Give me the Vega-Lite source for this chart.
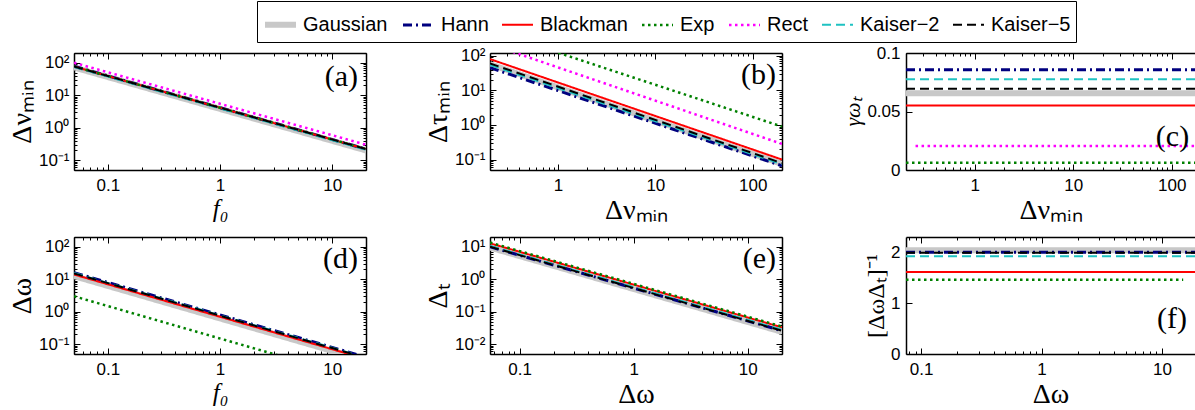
{
  "$schema": "https://vega.github.io/schema/vega-lite/v6.json",
  "padding": {"left": 8, "top": 0, "right": 0, "bottom": 0},
  "background": "white",
  "datasets": {
    "a": [
      {"w": "Gaussian", "x": 0.05, "y": 72}, {"w": "Gaussian", "x": 20, "y": 0.2},
      {"w": "Hann", "x": 0.05, "y": 78}, {"w": "Hann", "x": 20, "y": 0.22},
      {"w": "Blackman", "x": 0.05, "y": 77}, {"w": "Blackman", "x": 20, "y": 0.22},
      {"w": "Exp", "x": 0.05, "y": 77}, {"w": "Exp", "x": 20, "y": 0.22},
      {"w": "Rect", "x": 0.05, "y": 100}, {"w": "Rect", "x": 20, "y": 0.3},
      {"w": "Kaiser−2", "x": 0.05, "y": 74}, {"w": "Kaiser−2", "x": 20, "y": 0.21},
      {"w": "Kaiser−5", "x": 0.05, "y": 77}, {"w": "Kaiser−5", "x": 20, "y": 0.22}
    ],
    "b": [
      {"w": "Gaussian", "x": 0.2, "y": 57}, {"w": "Gaussian", "x": 200, "y": 0.075},
      {"w": "Hann", "x": 0.2, "y": 45}, {"w": "Hann", "x": 200, "y": 0.066},
      {"w": "Blackman", "x": 0.2, "y": 80}, {"w": "Blackman", "x": 200, "y": 0.1},
      {"w": "Exp", "x": 0.2, "y": 546}, {"w": "Exp", "x": 200, "y": 0.9},
      {"w": "Rect", "x": 0.2, "y": 216}, {"w": "Rect", "x": 200, "y": 0.283},
      {"w": "Kaiser−2", "x": 0.2, "y": 54}, {"w": "Kaiser−2", "x": 200, "y": 0.073},
      {"w": "Kaiser−5", "x": 0.2, "y": 60}, {"w": "Kaiser−5", "x": 200, "y": 0.079}
    ],
    "c": [
      {"w": "Gaussian", "x": 0.2, "y": 0.0656}, {"w": "Gaussian", "x": 172, "y": 0.0656},
      {"w": "Hann", "x": 0.2, "y": 0.0856}, {"w": "Hann", "x": 172, "y": 0.0856},
      {"w": "Blackman", "x": 0.2, "y": 0.0552}, {"w": "Blackman", "x": 172, "y": 0.0552},
      {"w": "Exp", "x": 0.2, "y": 0.0062}, {"w": "Exp", "x": 172, "y": 0.0062},
      {"w": "Rect", "x": 0.25, "y": 0.0205}, {"w": "Rect", "x": 172, "y": 0.0205},
      {"w": "Kaiser−2", "x": 0.2, "y": 0.0776}, {"w": "Kaiser−2", "x": 172, "y": 0.0776},
      {"w": "Kaiser−5", "x": 0.2, "y": 0.0695}, {"w": "Kaiser−5", "x": 172, "y": 0.0695}
    ],
    "d": [
      {"w": "Gaussian", "x": 0.05, "y": 12.5}, {"w": "Gaussian", "x": 20, "y": 0.031},
      {"w": "Hann", "x": 0.05, "y": 16}, {"w": "Hann", "x": 20, "y": 0.04},
      {"w": "Blackman", "x": 0.05, "y": 14}, {"w": "Blackman", "x": 20, "y": 0.035},
      {"w": "Exp", "x": 0.05, "y": 3}, {"w": "Exp", "x": 20, "y": 0.0075},
      {"w": "Kaiser−2", "x": 0.05, "y": 15.5}, {"w": "Kaiser−2", "x": 20, "y": 0.039},
      {"w": "Kaiser−5", "x": 0.05, "y": 15.2}, {"w": "Kaiser−5", "x": 20, "y": 0.038}
    ],
    "e": [
      {"w": "Gaussian", "x": 0.055, "y": 9.5}, {"w": "Gaussian", "x": 20, "y": 0.024},
      {"w": "Hann", "x": 0.055, "y": 10}, {"w": "Hann", "x": 20, "y": 0.026},
      {"w": "Blackman", "x": 0.055, "y": 12.8}, {"w": "Blackman", "x": 20, "y": 0.033},
      {"w": "Exp", "x": 0.055, "y": 13.5}, {"w": "Exp", "x": 20, "y": 0.035},
      {"w": "Kaiser−2", "x": 0.055, "y": 10.6}, {"w": "Kaiser−2", "x": 20, "y": 0.028},
      {"w": "Kaiser−5", "x": 0.055, "y": 10.1}, {"w": "Kaiser−5", "x": 20, "y": 0.026}
    ],
    "f": [
      {"w": "Gaussian", "x": 0.075, "y": 2.04}, {"w": "Gaussian", "x": 18.8, "y": 2.04},
      {"w": "Hann", "x": 0.075, "y": 2.0}, {"w": "Hann", "x": 18.8, "y": 2.0},
      {"w": "Blackman", "x": 0.075, "y": 1.61}, {"w": "Blackman", "x": 18.8, "y": 1.61},
      {"w": "Exp", "x": 0.075, "y": 1.46}, {"w": "Exp", "x": 15, "y": 1.46},
      {"w": "Kaiser−2", "x": 0.075, "y": 1.92}, {"w": "Kaiser−2", "x": 18.8, "y": 1.92},
      {"w": "Kaiser−5", "x": 0.075, "y": 1.99}, {"w": "Kaiser−5", "x": 18.8, "y": 1.99}
    ]
  },
  "concat": [
    {
      "width": 292, "height": 117,
      "layer": [
        {
          "data": {"name": "a"},
          "mark": {"type": "line", "clip": true, "strokeCap": "butt"},
          "encoding": {
            "x": {"field": "x", "type": "quantitative", "scale": {"type": "log", "domain": [0.05, 20], "nice": false},
              "axis": {"orient": "bottom", "values": [0.05,0.06,0.07,0.08,0.09,0.1,0.2,0.3,0.4,0.5,0.6,0.7,0.8,0.9,1,2,3,4,5,6,7,8,9,10,20],
                "labelExpr": "abs(log(datum.value)/LN10-round(log(datum.value)/LN10))<0.001 ? format(datum.value, '~g') : ''",
                "tickSize": {"condition": {"test": "abs(log(datum.value)/LN10-round(log(datum.value)/LN10))<0.001", "value": -6}, "value": -3},
                "labelPadding": 13, "title": "f₀", "titleFontStyle": "italic", "titleFontSize": 25, "titlePadding": 0}},
            "y": {"field": "y", "type": "quantitative", "scale": {"type": "log", "domain": [0.05, 200], "nice": false},
              "axis": {"orient": "left", "values": [0.05,0.06,0.07,0.08,0.09,0.1,0.2,0.3,0.4,0.5,0.6,0.7,0.8,0.9,1,2,3,4,5,6,7,8,9,10,20,30,40,50,60,70,80,90,100,200],
                "labelExpr": "abs(log(datum.value)/LN10-round(log(datum.value)/LN10))<0.001 ? '10' + ['⁻²','⁻¹','⁰','¹','²'][round(log(datum.value)/LN10)+2] : ''",
                "tickSize": {"condition": {"test": "abs(log(datum.value)/LN10-round(log(datum.value)/LN10))<0.001", "value": -6}, "value": -3},
                "labelPadding": 11, "title": "Δνₘᵢₙ", "titlePadding": 2}},
            "color": {"field": "w", "type": "nominal", "scale": {"domain": ["Gaussian","Hann","Blackman","Exp","Rect","Kaiser−2","Kaiser−5"], "range": ["#c8c8c8","#00007f","#ff0000","#008000","#ff00ff","#1fc2c2","#000000"]},
              "legend": {"title": null, "orient": "none", "legendX": 183, "legendY": -52, "direction": "horizontal", "columns": 7, "symbolType": "stroke", "symbolSize": 961, "labelFontSize": 20, "labelFont": "Liberation Sans", "labelColor": "black", "strokeColor": "black", "padding": 5, "columnPadding": 9, "labelOffset": 4}},
            "strokeDash": {"field": "w", "type": "nominal", "scale": {"domain": ["Gaussian","Hann","Blackman","Exp","Rect","Kaiser−2","Kaiser−5"], "range": [[1,0],[9,4,2,4],[1,0],[2.5,3.5],[2.5,3.5],[9,5],[9,5]]},
              "legend": {"title": null, "orient": "none", "legendX": 183, "legendY": -52, "direction": "horizontal", "columns": 7, "symbolType": "stroke", "symbolSize": 961, "labelFontSize": 20, "labelFont": "Liberation Sans", "labelColor": "black", "strokeColor": "black", "padding": 5, "columnPadding": 9, "labelOffset": 4}},
            "strokeWidth": {"field": "w", "type": "nominal", "scale": {"type": "ordinal", "domain": ["Gaussian","Hann","Blackman","Exp","Rect","Kaiser−2","Kaiser−5"], "range": [6,3,2,2.5,2.5,2,2]},
              "legend": {"title": null, "orient": "none", "legendX": 183, "legendY": -52, "direction": "horizontal", "columns": 7, "symbolType": "stroke", "symbolSize": 961, "labelFontSize": 20, "labelFont": "Liberation Sans", "labelColor": "black", "strokeColor": "black", "padding": 5, "columnPadding": 9, "labelOffset": 4}}
          }
        },
        {
          "data": {"values": [{"label": "(a)"}]},
          "mark": {"type": "text", "align": "right", "baseline": "middle", "font": "Liberation Serif", "fontSize": 30},
          "encoding": {
            "x": {"datum": 17, "type": "quantitative", "axis": {"orient": "top", "values": [0.05,0.06,0.07,0.08,0.09,0.1,0.2,0.3,0.4,0.5,0.6,0.7,0.8,0.9,1,2,3,4,5,6,7,8,9,10,20], "labels": false, "title": null,
              "tickSize": {"condition": {"test": "abs(log(datum.value)/LN10-round(log(datum.value)/LN10))<0.001", "value": -6}, "value": -3}}},
            "y": {"datum": 36, "type": "quantitative", "axis": {"orient": "right", "values": [0.05,0.06,0.07,0.08,0.09,0.1,0.2,0.3,0.4,0.5,0.6,0.7,0.8,0.9,1,2,3,4,5,6,7,8,9,10,20,30,40,50,60,70,80,90,100,200], "labels": false, "title": null,
              "tickSize": {"condition": {"test": "abs(log(datum.value)/LN10-round(log(datum.value)/LN10))<0.001", "value": -6}, "value": -3}}},
            "text": {"field": "label"}
          }
        }
      ],
      "resolve": {"axis": {"x": "independent", "y": "independent"}}
    },
    {
      "width": 292, "height": 117,
      "layer": [
        {
          "data": {"name": "b"},
          "mark": {"type": "line", "clip": true, "strokeCap": "butt"},
          "encoding": {
            "x": {"field": "x", "type": "quantitative", "scale": {"type": "log", "domain": [0.2, 200], "nice": false},
              "axis": {"orient": "bottom", "values": [0.2,0.3,0.4,0.5,0.6,0.7,0.8,0.9,1,2,3,4,5,6,7,8,9,10,20,30,40,50,60,70,80,90,100,200],
                "labelExpr": "abs(log(datum.value)/LN10-round(log(datum.value)/LN10))<0.001 ? format(datum.value, '~g') : ''",
                "tickSize": {"condition": {"test": "abs(log(datum.value)/LN10-round(log(datum.value)/LN10))<0.001", "value": -6}, "value": -3},
                "labelPadding": 13, "title": "Δνₘᵢₙ", "titlePadding": 0}},
            "y": {"field": "y", "type": "quantitative", "scale": {"type": "log", "domain": [0.05, 120], "nice": false},
              "axis": {"orient": "left", "values": [0.05,0.06,0.07,0.08,0.09,0.1,0.2,0.3,0.4,0.5,0.6,0.7,0.8,0.9,1,2,3,4,5,6,7,8,9,10,20,30,40,50,60,70,80,90,100],
                "labelExpr": "abs(log(datum.value)/LN10-round(log(datum.value)/LN10))<0.001 ? '10' + ['⁻²','⁻¹','⁰','¹','²'][round(log(datum.value)/LN10)+2] : ''",
                "tickSize": {"condition": {"test": "abs(log(datum.value)/LN10-round(log(datum.value)/LN10))<0.001", "value": -6}, "value": -3},
                "labelPadding": 11, "title": "Δτₘᵢₙ", "titlePadding": 2}},
            "color": {"field": "w", "type": "nominal", "scale": {"domain": ["Gaussian","Hann","Blackman","Exp","Rect","Kaiser−2","Kaiser−5"], "range": ["#c8c8c8","#00007f","#ff0000","#008000","#ff00ff","#1fc2c2","#000000"]}},
            "strokeDash": {"field": "w", "type": "nominal", "scale": {"domain": ["Gaussian","Hann","Blackman","Exp","Rect","Kaiser−2","Kaiser−5"], "range": [[1,0],[9,4,2,4],[1,0],[2.5,3.5],[2.5,3.5],[9,5],[9,5]]}},
            "strokeWidth": {"field": "w", "type": "nominal", "scale": {"type": "ordinal", "domain": ["Gaussian","Hann","Blackman","Exp","Rect","Kaiser−2","Kaiser−5"], "range": [6,3,2,2.5,2.5,2,2]}}
          }
        },
        {
          "data": {"values": [{"label": "(b)"}]},
          "mark": {"type": "text", "align": "right", "baseline": "middle", "font": "Liberation Serif", "fontSize": 30},
          "encoding": {
            "x": {"datum": 173, "type": "quantitative", "axis": {"orient": "top", "values": [0.2,0.3,0.4,0.5,0.6,0.7,0.8,0.9,1,2,3,4,5,6,7,8,9,10,20,30,40,50,60,70,80,90,100,200], "labels": false, "title": null,
              "tickSize": {"condition": {"test": "abs(log(datum.value)/LN10-round(log(datum.value)/LN10))<0.001", "value": -6}, "value": -3}}},
            "y": {"datum": 28, "type": "quantitative", "axis": {"orient": "right", "values": [0.05,0.06,0.07,0.08,0.09,0.1,0.2,0.3,0.4,0.5,0.6,0.7,0.8,0.9,1,2,3,4,5,6,7,8,9,10,20,30,40,50,60,70,80,90,100], "labels": false, "title": null,
              "tickSize": {"condition": {"test": "abs(log(datum.value)/LN10-round(log(datum.value)/LN10))<0.001", "value": -6}, "value": -3}}},
            "text": {"field": "label"}
          }
        }
      ],
      "resolve": {"axis": {"x": "independent", "y": "independent"}}
    },
    {
      "width": 289, "height": 117,
      "layer": [
        {
          "data": {"name": "c"},
          "mark": {"type": "line", "clip": true, "strokeCap": "butt"},
          "encoding": {
            "x": {"field": "x", "type": "quantitative", "scale": {"type": "log", "domain": [0.2, 172], "nice": false},
              "axis": {"orient": "bottom", "values": [0.2,0.3,0.4,0.5,0.6,0.7,0.8,0.9,1,2,3,4,5,6,7,8,9,10,20,30,40,50,60,70,80,90,100],
                "labelExpr": "abs(log(datum.value)/LN10-round(log(datum.value)/LN10))<0.001 ? format(datum.value, '~g') : ''",
                "tickSize": {"condition": {"test": "abs(log(datum.value)/LN10-round(log(datum.value)/LN10))<0.001", "value": -6}, "value": -3},
                "labelPadding": 13, "title": "Δνₘᵢₙ", "titlePadding": 0}},
            "y": {"field": "y", "type": "quantitative", "scale": {"domain": [0, 0.1], "nice": false, "zero": false},
              "axis": {"orient": "left", "values": [0, 0.05, 0.1], "format": "~g", "tickSize": -6,
                "labelPadding": 12, "title": "γωₜ", "titleFontStyle": "italic", "titleFontSize": 22, "titlePadding": 2}},
            "color": {"field": "w", "type": "nominal", "scale": {"domain": ["Gaussian","Hann","Blackman","Exp","Rect","Kaiser−2","Kaiser−5"], "range": ["#c8c8c8","#00007f","#ff0000","#008000","#ff00ff","#1fc2c2","#000000"]}},
            "strokeDash": {"field": "w", "type": "nominal", "scale": {"domain": ["Gaussian","Hann","Blackman","Exp","Rect","Kaiser−2","Kaiser−5"], "range": [[1,0],[9,4,2,4],[1,0],[2.5,3.5],[2.5,3.5],[9,5],[9,5]]}},
            "strokeWidth": {"field": "w", "type": "nominal", "scale": {"type": "ordinal", "domain": ["Gaussian","Hann","Blackman","Exp","Rect","Kaiser−2","Kaiser−5"], "range": [6,3,2,2.5,2.5,2,2]}}
          }
        },
        {
          "data": {"values": [{"label": "(c)"}]},
          "mark": {"type": "text", "align": "right", "baseline": "middle", "font": "Liberation Serif", "fontSize": 30},
          "encoding": {
            "x": {"datum": 150, "type": "quantitative", "axis": {"orient": "top", "values": [0.2,0.3,0.4,0.5,0.6,0.7,0.8,0.9,1,2,3,4,5,6,7,8,9,10,20,30,40,50,60,70,80,90,100], "labels": false, "title": null,
              "tickSize": {"condition": {"test": "abs(log(datum.value)/LN10-round(log(datum.value)/LN10))<0.001", "value": -6}, "value": -3}}},
            "y": {"datum": 0.028, "type": "quantitative"},
            "text": {"field": "label"}
          }
        }
      ],
      "resolve": {"axis": {"x": "independent"}}
    },
    {
      "width": 292, "height": 117,
      "layer": [
        {
          "data": {"name": "d"},
          "mark": {"type": "line", "clip": true, "strokeCap": "butt"},
          "encoding": {
            "x": {"field": "x", "type": "quantitative", "scale": {"type": "log", "domain": [0.05, 20], "nice": false},
              "axis": {"orient": "bottom", "values": [0.05,0.06,0.07,0.08,0.09,0.1,0.2,0.3,0.4,0.5,0.6,0.7,0.8,0.9,1,2,3,4,5,6,7,8,9,10,20],
                "labelExpr": "abs(log(datum.value)/LN10-round(log(datum.value)/LN10))<0.001 ? format(datum.value, '~g') : ''",
                "tickSize": {"condition": {"test": "abs(log(datum.value)/LN10-round(log(datum.value)/LN10))<0.001", "value": -6}, "value": -3},
                "labelPadding": 13, "title": "f₀", "titleFontStyle": "italic", "titleFontSize": 25, "titlePadding": 0}},
            "y": {"field": "y", "type": "quantitative", "scale": {"type": "log", "domain": [0.05, 200], "nice": false},
              "axis": {"orient": "left", "values": [0.05,0.06,0.07,0.08,0.09,0.1,0.2,0.3,0.4,0.5,0.6,0.7,0.8,0.9,1,2,3,4,5,6,7,8,9,10,20,30,40,50,60,70,80,90,100,200],
                "labelExpr": "abs(log(datum.value)/LN10-round(log(datum.value)/LN10))<0.001 ? '10' + ['⁻²','⁻¹','⁰','¹','²'][round(log(datum.value)/LN10)+2] : ''",
                "tickSize": {"condition": {"test": "abs(log(datum.value)/LN10-round(log(datum.value)/LN10))<0.001", "value": -6}, "value": -3},
                "labelPadding": 11, "title": "Δω", "titlePadding": 2}},
            "color": {"field": "w", "type": "nominal", "scale": {"domain": ["Gaussian","Hann","Blackman","Exp","Rect","Kaiser−2","Kaiser−5"], "range": ["#c8c8c8","#00007f","#ff0000","#008000","#ff00ff","#1fc2c2","#000000"]}},
            "strokeDash": {"field": "w", "type": "nominal", "scale": {"domain": ["Gaussian","Hann","Blackman","Exp","Rect","Kaiser−2","Kaiser−5"], "range": [[1,0],[9,4,2,4],[1,0],[2.5,3.5],[2.5,3.5],[9,5],[9,5]]}},
            "strokeWidth": {"field": "w", "type": "nominal", "scale": {"type": "ordinal", "domain": ["Gaussian","Hann","Blackman","Exp","Rect","Kaiser−2","Kaiser−5"], "range": [6,3,2,2.5,2.5,2,2]}}
          }
        },
        {
          "data": {"values": [{"label": "(d)"}]},
          "mark": {"type": "text", "align": "right", "baseline": "middle", "font": "Liberation Serif", "fontSize": 30},
          "encoding": {
            "x": {"datum": 17, "type": "quantitative", "axis": {"orient": "top", "values": [0.05,0.06,0.07,0.08,0.09,0.1,0.2,0.3,0.4,0.5,0.6,0.7,0.8,0.9,1,2,3,4,5,6,7,8,9,10,20], "labels": false, "title": null,
              "tickSize": {"condition": {"test": "abs(log(datum.value)/LN10-round(log(datum.value)/LN10))<0.001", "value": -6}, "value": -3}}},
            "y": {"datum": 42, "type": "quantitative", "axis": {"orient": "right", "values": [0.05,0.06,0.07,0.08,0.09,0.1,0.2,0.3,0.4,0.5,0.6,0.7,0.8,0.9,1,2,3,4,5,6,7,8,9,10,20,30,40,50,60,70,80,90,100,200], "labels": false, "title": null,
              "tickSize": {"condition": {"test": "abs(log(datum.value)/LN10-round(log(datum.value)/LN10))<0.001", "value": -6}, "value": -3}}},
            "text": {"field": "label"}
          }
        }
      ],
      "resolve": {"axis": {"x": "independent", "y": "independent"}}
    },
    {
      "width": 292, "height": 117,
      "layer": [
        {
          "data": {"name": "e"},
          "mark": {"type": "line", "clip": true, "strokeCap": "butt"},
          "encoding": {
            "x": {"field": "x", "type": "quantitative", "scale": {"type": "log", "domain": [0.055, 20], "nice": false},
              "axis": {"orient": "bottom", "values": [0.06,0.07,0.08,0.09,0.1,0.2,0.3,0.4,0.5,0.6,0.7,0.8,0.9,1,2,3,4,5,6,7,8,9,10,20],
                "labelExpr": "abs(log(datum.value)/LN10-round(log(datum.value)/LN10))<0.001 ? format(datum.value, '~g') : ''",
                "tickSize": {"condition": {"test": "abs(log(datum.value)/LN10-round(log(datum.value)/LN10))<0.001", "value": -6}, "value": -3},
                "labelPadding": 13, "title": "Δω", "titlePadding": 0}},
            "y": {"field": "y", "type": "quantitative", "scale": {"type": "log", "domain": [0.005, 20], "nice": false},
              "axis": {"orient": "left", "values": [0.005,0.006,0.007,0.008,0.009,0.01,0.02,0.03,0.04,0.05,0.06,0.07,0.08,0.09,0.1,0.2,0.3,0.4,0.5,0.6,0.7,0.8,0.9,1,2,3,4,5,6,7,8,9,10,20],
                "labelExpr": "abs(log(datum.value)/LN10-round(log(datum.value)/LN10))<0.001 ? '10' + ['⁻²','⁻¹','⁰','¹','²'][round(log(datum.value)/LN10)+2] : ''",
                "tickSize": {"condition": {"test": "abs(log(datum.value)/LN10-round(log(datum.value)/LN10))<0.001", "value": -6}, "value": -3},
                "labelPadding": 11, "title": "Δₜ", "titlePadding": 2}},
            "color": {"field": "w", "type": "nominal", "scale": {"domain": ["Gaussian","Hann","Blackman","Exp","Rect","Kaiser−2","Kaiser−5"], "range": ["#c8c8c8","#00007f","#ff0000","#008000","#ff00ff","#1fc2c2","#000000"]}},
            "strokeDash": {"field": "w", "type": "nominal", "scale": {"domain": ["Gaussian","Hann","Blackman","Exp","Rect","Kaiser−2","Kaiser−5"], "range": [[1,0],[9,4,2,4],[1,0],[2.5,3.5],[2.5,3.5],[9,5],[9,5]]}},
            "strokeWidth": {"field": "w", "type": "nominal", "scale": {"type": "ordinal", "domain": ["Gaussian","Hann","Blackman","Exp","Rect","Kaiser−2","Kaiser−5"], "range": [6,3,2,2.5,2.5,2,2]}}
          }
        },
        {
          "data": {"values": [{"label": "(e)"}]},
          "mark": {"type": "text", "align": "right", "baseline": "middle", "font": "Liberation Serif", "fontSize": 30},
          "encoding": {
            "x": {"datum": 17.7, "type": "quantitative", "axis": {"orient": "top", "values": [0.06,0.07,0.08,0.09,0.1,0.2,0.3,0.4,0.5,0.6,0.7,0.8,0.9,1,2,3,4,5,6,7,8,9,10,20], "labels": false, "title": null,
              "tickSize": {"condition": {"test": "abs(log(datum.value)/LN10-round(log(datum.value)/LN10))<0.001", "value": -6}, "value": -3}}},
            "y": {"datum": 4.2, "type": "quantitative", "axis": {"orient": "right", "values": [0.005,0.006,0.007,0.008,0.009,0.01,0.02,0.03,0.04,0.05,0.06,0.07,0.08,0.09,0.1,0.2,0.3,0.4,0.5,0.6,0.7,0.8,0.9,1,2,3,4,5,6,7,8,9,10,20], "labels": false, "title": null,
              "tickSize": {"condition": {"test": "abs(log(datum.value)/LN10-round(log(datum.value)/LN10))<0.001", "value": -6}, "value": -3}}},
            "text": {"field": "label"}
          }
        }
      ],
      "resolve": {"axis": {"x": "independent", "y": "independent"}}
    },
    {
      "width": 289, "height": 117,
      "layer": [
        {
          "data": {"name": "f"},
          "mark": {"type": "line", "clip": true, "strokeCap": "butt"},
          "encoding": {
            "x": {"field": "x", "type": "quantitative", "scale": {"type": "log", "domain": [0.075, 18.8], "nice": false},
              "axis": {"orient": "bottom", "values": [0.08,0.09,0.1,0.2,0.3,0.4,0.5,0.6,0.7,0.8,0.9,1,2,3,4,5,6,7,8,9,10],
                "labelExpr": "abs(log(datum.value)/LN10-round(log(datum.value)/LN10))<0.001 ? format(datum.value, '~g') : ''",
                "tickSize": {"condition": {"test": "abs(log(datum.value)/LN10-round(log(datum.value)/LN10))<0.001", "value": -6}, "value": -3},
                "labelPadding": 13, "title": "Δω", "titlePadding": 0}},
            "y": {"field": "y", "type": "quantitative", "scale": {"domain": [0, 2.3], "nice": false, "zero": false},
              "axis": {"orient": "left", "values": [0, 1, 2], "format": "d", "tickSize": -6,
                "labelPadding": 12, "title": "[ΔωΔₜ]⁻¹", "titleFontSize": 24, "titlePadding": 2}},
            "color": {"field": "w", "type": "nominal", "scale": {"domain": ["Gaussian","Hann","Blackman","Exp","Rect","Kaiser−2","Kaiser−5"], "range": ["#c8c8c8","#00007f","#ff0000","#008000","#ff00ff","#1fc2c2","#000000"]}},
            "strokeDash": {"field": "w", "type": "nominal", "scale": {"domain": ["Gaussian","Hann","Blackman","Exp","Rect","Kaiser−2","Kaiser−5"], "range": [[1,0],[9,4,2,4],[1,0],[2.5,3.5],[2.5,3.5],[9,5],[9,5]]}},
            "strokeWidth": {"field": "w", "type": "nominal", "scale": {"type": "ordinal", "domain": ["Gaussian","Hann","Blackman","Exp","Rect","Kaiser−2","Kaiser−5"], "range": [6,3,2,2.5,2.5,2,2]}}
          }
        },
        {
          "data": {"values": [{"label": "(f)"}]},
          "mark": {"type": "text", "align": "right", "baseline": "middle", "font": "Liberation Serif", "fontSize": 30},
          "encoding": {
            "x": {"datum": 16.1, "type": "quantitative", "axis": {"orient": "top", "values": [0.08,0.09,0.1,0.2,0.3,0.4,0.5,0.6,0.7,0.8,0.9,1,2,3,4,5,6,7,8,9,10], "labels": false, "title": null,
              "tickSize": {"condition": {"test": "abs(log(datum.value)/LN10-round(log(datum.value)/LN10))<0.001", "value": -6}, "value": -3}}},
            "y": {"datum": 0.69, "type": "quantitative"},
            "text": {"field": "label"}
          }
        }
      ],
      "resolve": {"axis": {"x": "independent"}}
    }
  ],
  "columns": 3,
  "spacing": {"row": 67, "column": 124},
  "bounds": "flush",
  "config": {
    "view": {"stroke": null},
    "axis": {
      "domainColor": "black", "domainWidth": 1.5, "tickColor": "black", "tickWidth": 1,
      "labelFont": "Liberation Sans", "labelFontSize": 17, "labelColor": "black",
      "titleFont": "Liberation Serif", "titleFontSize": 28, "titleFontWeight": "normal", "titleColor": "black",
      "grid": false, "labelFlush": false, "labelOverlap": false, "labelBound": false
    },
    "text": {"color": "black"}
  }
}
